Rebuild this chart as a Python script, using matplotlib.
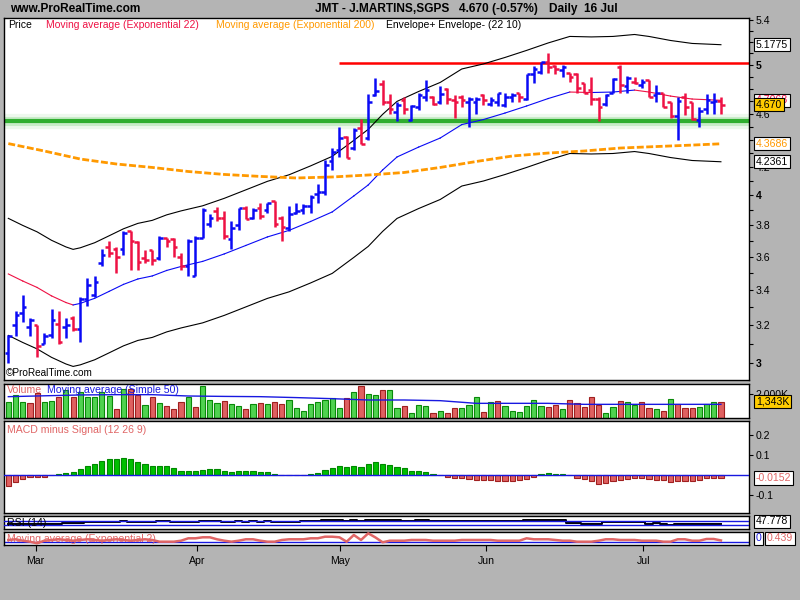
import matplotlib
matplotlib.use('Agg')
import matplotlib.pyplot as plt
import numpy as np

plt.rcParams['font.family'] = ['Liberation Sans', 'DejaVu Sans']

# ---- daily OHLC bars (index = trading day, 23 Feb .. 16 Jul) ----
opens = [3.05, 3.20, 3.27, 3.19, 3.20, 3.10, 3.15, 3.21, 3.19, 3.24,
         3.18, 3.35, 3.37, 3.56, 3.66, 3.65, 3.65, 3.76, 3.69, 3.59,
         3.64, 3.59, 3.72, 3.71, 3.60, 3.54, 3.48, 3.72, 3.81, 3.89,
         3.85, 3.71, 3.80, 3.91, 3.85, 3.91, 3.90, 3.96, 3.85, 3.78,
         3.88, 3.90, 3.93, 4.01, 4.02, 4.24, 4.32, 4.42, 4.34, 4.49,
         4.41, 4.75, 4.84, 4.69, 4.61, 4.71, 4.55, 4.65, 4.73, 4.73,
         4.69, 4.80, 4.71, 4.73, 4.69, 4.69, 4.75, 4.68, 4.69, 4.67,
         4.73, 4.77, 4.72, 4.92, 4.94, 5.03, 4.99, 4.96, 4.93, 4.92,
         4.85, 4.79, 4.72, 4.68, 4.77, 4.98, 4.82, 4.86, 4.83, 4.87,
         4.75, 4.77, 4.69, 4.58, 4.73, 4.69, 4.55, 4.64, 4.69, 4.70]
highs = [3.15, 3.28, 3.37, 3.24, 3.20, 3.16, 3.29, 3.28, 3.24, 3.25,
         3.36, 3.47, 3.48, 3.65, 3.70, 3.66, 3.76, 3.76, 3.70, 3.64,
         3.64, 3.73, 3.72, 3.72, 3.62, 3.71, 3.73, 3.91, 3.87, 3.92,
         3.89, 3.83, 3.91, 3.93, 3.91, 3.95, 3.95, 3.96, 3.86, 3.93,
         3.95, 3.94, 4.00, 4.08, 4.25, 4.34, 4.50, 4.43, 4.49, 4.56,
         4.76, 4.89, 4.87, 4.76, 4.69, 4.73, 4.67, 4.77, 4.87, 4.74,
         4.82, 4.81, 4.75, 4.75, 4.73, 4.73, 4.76, 4.73, 4.77, 4.77,
         4.77, 4.77, 4.92, 4.99, 5.03, 5.10, 5.00, 5.00, 4.93, 4.93,
         4.85, 4.90, 4.73, 4.76, 4.89, 5.00, 4.91, 4.90, 4.88, 4.87,
         4.83, 4.77, 4.69, 4.73, 4.77, 4.69, 4.65, 4.76, 4.77, 4.73]
lows = [3.00, 3.14, 3.22, 3.14, 3.03, 3.10, 3.13, 3.10, 3.13, 3.17,
        3.11, 3.31, 3.36, 3.54, 3.60, 3.50, 3.61, 3.52, 3.52, 3.56,
        3.55, 3.58, 3.66, 3.60, 3.52, 3.48, 3.48, 3.72, 3.79, 3.83,
        3.71, 3.65, 3.77, 3.84, 3.84, 3.84, 3.88, 3.79, 3.70, 3.76,
        3.87, 3.87, 3.88, 3.95, 4.00, 4.18, 4.27, 4.26, 4.32, 4.37,
        4.40, 4.74, 4.67, 4.60, 4.54, 4.60, 4.54, 4.63, 4.70, 4.67,
        4.68, 4.68, 4.57, 4.65, 4.50, 4.60, 4.67, 4.66, 4.66, 4.65,
        4.69, 4.69, 4.71, 4.85, 4.92, 4.93, 4.92, 4.90, 4.86, 4.77,
        4.77, 4.67, 4.54, 4.66, 4.77, 4.77, 4.77, 4.84, 4.81, 4.73,
        4.69, 4.65, 4.57, 4.40, 4.59, 4.55, 4.50, 4.60, 4.60, 4.60]
closes = [3.14, 3.26, 3.30, 3.23, 3.09, 3.14, 3.23, 3.11, 3.20, 3.18,
          3.35, 3.43, 3.45, 3.61, 3.62, 3.60, 3.75, 3.70, 3.57, 3.58,
          3.58, 3.72, 3.70, 3.66, 3.54, 3.70, 3.72, 3.90, 3.85, 3.85,
          3.73, 3.78, 3.91, 3.84, 3.90, 3.86, 3.95, 3.81, 3.79, 3.87,
          3.89, 3.93, 3.99, 4.02, 4.21, 4.31, 4.41, 4.26, 4.47, 4.37,
          4.69, 4.78, 4.69, 4.64, 4.67, 4.64, 4.66, 4.75, 4.79, 4.68,
          4.76, 4.72, 4.69, 4.71, 4.72, 4.72, 4.71, 4.71, 4.77, 4.73,
          4.75, 4.73, 4.92, 4.97, 5.03, 4.98, 4.97, 4.98, 4.90, 4.81,
          4.77, 4.72, 4.65, 4.75, 4.88, 4.83, 4.89, 4.85, 4.86, 4.73,
          4.77, 4.65, 4.58, 4.70, 4.65, 4.56, 4.62, 4.71, 4.70, 4.67]

# ---- EMA 22 (centre of the 10% envelope) ----
ema22_idx = [0, 2, 4, 6, 8, 9, 10, 12, 14, 16, 18, 20, 22, 24, 27, 30, 33, 36, 39,
             42, 45, 48, 50, 52, 54, 57, 60, 63, 66, 69, 72, 75, 78, 81, 84, 87,
             89, 92, 95, 99]
ema22 = [3.495, 3.453, 3.415, 3.366, 3.328, 3.314, 3.323, 3.352, 3.392, 3.433,
         3.465, 3.483, 3.516, 3.540, 3.571, 3.617, 3.670, 3.724, 3.766, 3.824,
         3.887, 3.995, 4.071, 4.177, 4.271, 4.344, 4.412, 4.515, 4.554, 4.605,
         4.661, 4.721, 4.774, 4.770, 4.774, 4.790, 4.774, 4.741, 4.717, 4.7068]
env_pct = 10

# ---- EMA 200 and volume SMA 50, read at every 5th bar ----
line_idx = [0, 5, 10, 15, 20, 25, 30, 35, 40, 45, 50,
            55, 60, 65, 70, 75, 80, 85, 90, 95, 99]
ema200 = [4.370, 4.315, 4.256, 4.220, 4.195, 4.166, 4.145, 4.131, 4.120, 4.127, 4.141,
          4.159, 4.195, 4.238, 4.278, 4.300, 4.315, 4.337, 4.348, 4.359, 4.3686]
vol_ma = [1777, 1850, 1920, 1944, 1944, 1833, 1800, 1777, 1700, 1610, 1500,
          1500, 1444, 1222, 1222, 1222, 1138, 1138, 1138, 1138, 1138]

# ---- volume (thousands) and bar colour (g = up, r = down) ----
volume = [1308, 1916, 1308, 1225, 2058, 1308, 1416, 1722, 2333, 1777,
          2139, 1777, 1722, 2194, 1833, 722, 2389, 2389, 1916, 1083,
          1722, 1225, 1000, 722, 1308, 1722, 889, 2666, 1500, 1225,
          1416, 1166, 1000, 722, 1166, 1225, 1194, 1308, 1194, 1500,
          805, 583, 1166, 1308, 1500, 1638, 805, 1638, 2139, 2666,
          1972, 1888, 2333, 2333, 805, 1000, 389, 1083, 1000, 389,
          583, 389, 805, 805, 1083, 1722, 472, 1308, 1416, 1000,
          611, 472, 1000, 1500, 1000, 889, 1083, 722, 1500, 1225,
          889, 1722, 1083, 389, 889, 1416, 1308, 1083, 1308, 805,
          722, 611, 1555, 1166, 805, 805, 889, 1166, 1308, 1343]
vol_dir = ('gggrrggrgr' 'gggggrgrrg' 'rgrrrgrggg' 'rggrgrgrrg' 'gggggggrgr'
           'ggrggrgggr' 'grrgggrgrg' 'gggggrrgrr' 'rrrggrggrr' 'grgrrrgggr')

macd_hist = [-0.057, -0.037, -0.020, -0.010, -0.010, -0.010, 0.0, 0.005, 0.010, 0.015,
             0.030, 0.045, 0.055, 0.070, 0.080, 0.080, 0.085, 0.080, 0.067, 0.055,
             0.045, 0.045, 0.045, 0.035, 0.022, 0.022, 0.022, 0.025, 0.030, 0.030,
             0.022, 0.015, 0.020, 0.020, 0.020, 0.015, 0.015, 0.005, 0.0, 0.0,
             0.0, 0.0, 0.005, 0.010, 0.025, 0.035, 0.045, 0.040, 0.045, 0.040,
             0.055, 0.067, 0.055, 0.050, 0.040, 0.035, 0.020, 0.020, 0.015, 0.005,
             0.0, -0.008, -0.017, -0.017, -0.020, -0.027, -0.027, -0.027, -0.032, -0.032,
             -0.032, -0.027, -0.018, -0.008, 0.005, 0.010, 0.005, 0.005, 0.0, -0.017,
             -0.020, -0.032, -0.045, -0.040, -0.028, -0.023, -0.020, -0.017, -0.017, -0.020,
             -0.023, -0.023, -0.035, -0.028, -0.028, -0.028, -0.027, -0.017, -0.013, -0.0152]

rsi14 = [45, 45, 45, 45, 45, 43, 43, 43, 50, 50,
         50, 63, 63, 63, 63, 63, 70, 63, 63, 63,
         63, 70, 70, 63, 63, 63, 63, 70, 70, 70,
         63, 63, 70, 63, 70, 63, 70, 63, 63, 63,
         63, 70, 70, 70, 80, 80, 80, 70, 80, 70,
         80, 80, 80, 80, 80, 70, 70, 80, 80, 70,
         70, 70, 70, 70, 70, 70, 70, 70, 70, 70,
         70, 70, 80, 80, 80, 80, 80, 80, 56, 56,
         43, 43, 43, 63, 63, 63, 63, 63, 63, 43,
         56, 43, 36, 43, 43, 43, 43, 43, 43, 47.778]

rsi_ema2 = [0.60, 0.84, 0.35, 0.00, -0.56, 0.35, 0.60, 0.84, 0.60, 0.35,
            0.60, 0.84, 0.60, 0.35, 0.60, 0.84, 0.60, 0.35, 0.60, 0.84,
            0.60, 0.00, 0.00, 0.00, 0.35, 1.19, 1.19, 1.54, 1.54, 0.84,
            0.35, 0.00, 0.35, 0.84, 0.84, 0.35, 0.00, 0.00, 0.60, 0.84,
            0.84, 0.84, 1.19, 1.19, 1.75, 1.75, 1.54, 0.00, 2.35, 0.60,
            2.94, 1.50, -0.21, 0.35, 0.35, 0.35, 0.60, 0.60, 0.60, 0.35,
            0.35, 0.35, 0.35, 0.60, 0.60, 0.60, 0.60, 0.60, 0.35, 0.35,
            0.35, 0.35, 1.19, 0.84, 0.84, 0.84, 0.60, 0.35, 0.35, 0.00,
            0.00, 0.00, 0.35, 0.84, 0.84, 0.60, 0.60, 0.60, 0.35, 0.35,
            0.35, 0.00, 0.00, 0.84, 0.84, 0.35, 0.35, 0.95, 0.95, 0.439]

month_labels = ['Mar', 'Apr', 'May', 'Jun', 'Jul']
month_pos = [3.8, 26.2, 46.1, 66.4, 88.2]

resistance = 5.02
resistance_from = 46
support = 4.54

price_ticks = [3, 3.2, 3.4, 3.6, 3.8, 4, 4.2, 4.4, 4.6, 4.8, 5, 5.2, 5.4]
price_tick_labels = ['3', '3.2', '3.4', '3.6', '3.8', '4', '4.2', '', '4.6', '', '5', '', '5.4']
price_minor = [3.1, 3.3, 3.5, 3.7, 3.9, 4.1, 4.3, 4.5, 4.7, 4.9, 5.1, 5.3]

# ---- colours ----
BG = '#B4B4B4'
UP = '#0A0AF5'
DOWN = '#EE1144'
ORANGE = '#FF9900'
SALMON = '#E06666'
LINE_BLUE = '#1818E0'
VOL_G, VOL_G_E = '#4FD24F', '#0A8A0A'
VOL_R, VOL_R_E = '#DF6060', '#A02020'
MACD_G, MACD_G_E = '#00C000', '#008800'

W, H = 800, 600


def box(x0, y0, x1, y1):
    return [x0 / W, 1 - y1 / H, (x1 - x0) / W, (y1 - y0) / H]


def px(x, y):
    return x / W, 1 - y / H


fig = plt.figure(figsize=(8, 6), dpi=100, facecolor=BG)

ax_p = fig.add_axes(box(4, 18, 749, 380))
ax_v = fig.add_axes(box(4, 384, 749, 418))
ax_m = fig.add_axes(box(4, 421, 749, 513))
ax_r = fig.add_axes(box(4, 516, 749, 529))
ax_a = fig.add_axes(box(4, 532, 749, 545))

xlim = (-0.6, 102.9)
for a in (ax_p, ax_v, ax_m, ax_r, ax_a):
    a.set_facecolor('white')
    a.set_xlim(*xlim)
    for s in a.spines.values():
        s.set_color('black')
        s.set_linewidth(1)
    a.yaxis.tick_right()
    a.tick_params(axis='y', which='both', direction='out', length=3, width=0.8,
                  labelsize=7.6, pad=2, colors='black')
    a.tick_params(axis='x', which='both', bottom=False, labelbottom=False)

x = np.arange(len(closes))
o = np.array(opens)
c = np.array(closes)
bar_cols = [UP if cc >= oo else DOWN for oo, cc in zip(o, c)]


def tag(ax, val, txt, fc='white', tc='black', dx=5):
    ax.annotate(txt, xy=(1, val), xycoords=('axes fraction', 'data'),
                xytext=(dx, 0), textcoords='offset points', va='center', ha='left',
                fontsize=7.6, color=tc, annotation_clip=False, zorder=10,
                bbox=dict(boxstyle='square,pad=0.15', fc=fc, ec='black', lw=0.8))


# ---- main price panel ----
ax_p.set_yscale('log')
ax_p.set_ylim(2.914, 5.42)
ax_p.set_yticks(price_ticks, labels=price_tick_labels)
ax_p.set_yticks(price_minor, minor=True)
ax_p.yaxis.set_minor_formatter(plt.NullFormatter())
for lbl in ax_p.get_yticklabels():
    if lbl.get_text() in ('3', '4', '5'):
        lbl.set_fontweight('bold')
ax_p.tick_params(axis='y', which='both', direction='out', length=3, width=0.8,
                 labelsize=7.6, pad=2)

# support line with soft glow, resistance line
ax_p.axhline(support, color='#EDF8ED', lw=11, zorder=1)
ax_p.axhline(support, color='#C8ECC8', lw=6.5, zorder=1)
ax_p.axhline(support, color='#2FAE2F', lw=3, zorder=1.1)
ax_p.hlines(resistance, resistance_from, xlim[1], color='#FF0000', lw=1.8, zorder=1.1)

ema22_a = np.array(ema22)
ax_p.plot(ema22_idx, ema22_a * (1 + env_pct / 100), color='black', lw=0.8, zorder=2)
ax_p.plot(ema22_idx, ema22_a * (1 - env_pct / 100), color='black', lw=0.8, zorder=2)
for i in range(len(ema22_idx) - 1):
    col = UP if ema22[i + 1] >= ema22[i] else DOWN
    ax_p.plot(ema22_idx[i:i + 2], ema22[i:i + 2], color=col, lw=0.8, zorder=2)
ax_p.plot(line_idx, ema200, color=ORANGE, lw=2, linestyle=(0, (2.5, 0.9)), zorder=2)

ax_p.vlines(x, lows, highs, colors=bar_cols, lw=1.8, zorder=3)
ax_p.hlines(opens, x - 0.5, x, colors=bar_cols, lw=1.8, zorder=3)
ax_p.hlines(closes, x, x + 0.5, colors=bar_cols, lw=1.8, zorder=3)

env_up_last = ema22[-1] * (1 + env_pct / 100)
env_dn_last = ema22[-1] * (1 - env_pct / 100)
tag(ax_p, env_up_last, f'{env_up_last:.4f}')
tag(ax_p, ema22[-1], f'{ema22[-1]:.4f}', tc=DOWN)
tag(ax_p, closes[-1], f'{closes[-1]:.3f}', fc='#FFCC00')
tag(ax_p, ema200[-1], f'{ema200[-1]:.4f}', tc=ORANGE)
tag(ax_p, env_dn_last, f'{env_dn_last:.4f}')

# legend line of main panel
leg_y = 25
fig.text(*px(8, leg_y), 'Price', fontsize=7.5, va='center', color='black')
fig.text(*px(46, leg_y), 'Moving average (Exponential 22)', fontsize=7.5, va='center', color=DOWN)
fig.text(*px(216, leg_y), 'Moving average (Exponential 200)', fontsize=7.5, va='center', color=ORANGE)
fig.text(*px(386, leg_y), 'Envelope+ Envelope- (22 10)', fontsize=7.5, va='center', color='black')
fig.text(*px(6, 373), '\u00a9ProRealTime.com', fontsize=7.2, va='center', color='black')

# header
fig.text(*px(10, 9), 'www.ProRealTime.com', fontsize=8.6, va='center', fontweight='bold')
fig.text(*px(315, 9), 'JMT - J.MARTINS,SGPS', fontsize=8.6, va='center', fontweight='bold')
fig.text(*px(459, 9), '4.670 (-0.57%)', fontsize=8.6, va='center', fontweight='bold')
fig.text(*px(549, 9), 'Daily  16 Jul', fontsize=8.6, va='center', fontweight='bold')

# ---- volume panel ----
ax_v.set_ylim(0, 2833)
vfill = [VOL_G if d == 'g' else VOL_R for d in vol_dir]
vedge = [VOL_G_E if d == 'g' else VOL_R_E for d in vol_dir]
ax_v.bar(x, volume, width=0.72, color=vfill, edgecolor=vedge, lw=0.8, zorder=2)
ax_v.plot(line_idx, vol_ma, color=LINE_BLUE, lw=1, zorder=3)
ax_v.set_yticks([2000], labels=['2,000K'])
tag(ax_v, volume[-1], '1,343K', fc='#FFCC00')
ax_v.text(0.004, 0.82, 'Volume', transform=ax_v.transAxes, fontsize=7.6,
          color=SALMON, va='center', zorder=5)
ax_v.text(0.058, 0.82, 'Moving average (Simple 50)', transform=ax_v.transAxes,
          fontsize=7.6, color=LINE_BLUE, va='center', zorder=5)

# ---- MACD panel ----
ax_m.set_ylim(-0.19, 0.27)
mh = np.array(macd_hist)
mfill = [MACD_G if v > 0 else VOL_R for v in mh]
medge = [MACD_G_E if v > 0 else VOL_R_E for v in mh]
ax_m.bar(x, mh, width=0.72, color=mfill, edgecolor=medge, lw=0.8, zorder=2)
ax_m.axhline(0, color=LINE_BLUE, lw=1, zorder=3)
ax_m.set_yticks([0.2, 0.1, -0.1], labels=['0.2', '0.1', '-0.1'])
tag(ax_m, macd_hist[-1], f'{macd_hist[-1]:.4f}', tc=SALMON)
ax_m.text(0.004, 0.9, 'MACD minus Signal (12 26 9)', transform=ax_m.transAxes,
          fontsize=7.6, color=SALMON, va='center')

# ---- RSI panel ----
ax_r.set_ylim(-7, 123)
ax_r.set_yticks([])
ax_r.plot(x, rsi14, color='black', lw=1.4, drawstyle='steps-mid', zorder=2)
ax_r.axhline(70, color=LINE_BLUE, lw=1, zorder=3)
ax_r.axhline(30, color=LINE_BLUE, lw=1, zorder=3)
ax_r.text(0.004, 0.5, 'RSI (14)', transform=ax_r.transAxes, fontsize=7.6,
          color='black', va='center')
tag(ax_r, 72, f'{rsi14[-1]:.3f}')

# ---- EMA(2) sub-panel ----
ax_a.set_ylim(-1.16, 3.4)
ax_a.set_yticks([])
ax_a.axhline(0, color=LINE_BLUE, lw=1, zorder=2)
ax_a.plot(x, rsi_ema2, color=SALMON, lw=1.8, zorder=3)
ax_a.text(0.004, 0.5, 'Moving average (Exponential 2)', transform=ax_a.transAxes,
          fontsize=7.6, color=SALMON, va='center')
tag(ax_a, 1.2, '0', tc=LINE_BLUE)
tag(ax_a, 1.2, f'{rsi_ema2[-1]:.3f}', tc=SALMON, dx=13)

ax_a.set_xticks(month_pos, labels=month_labels)
ax_a.tick_params(axis='x', which='both', bottom=True, labelbottom=True,
                 direction='out', length=4, width=0.8, labelsize=7.6, pad=4)

fig.savefig('out.png', dpi=100, facecolor=BG)
